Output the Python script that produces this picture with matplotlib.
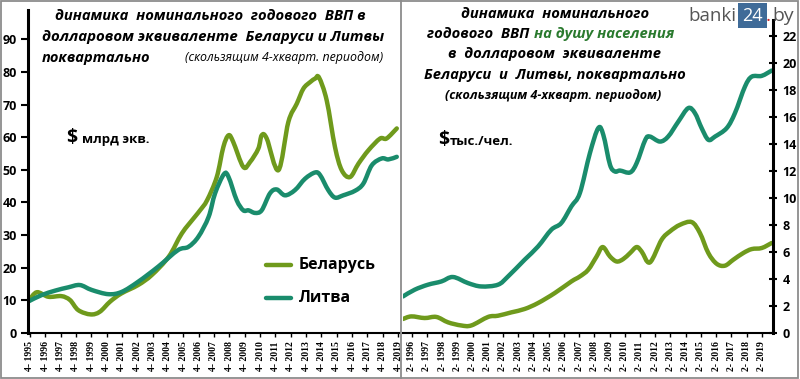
import matplotlib
matplotlib.use("Agg")
import matplotlib.pyplot as plt
from matplotlib.patches import Rectangle, PathPatch
from matplotlib.lines import Line2D
from matplotlib.path import Path

# ---------------- data ----------------
by_gdp_x = [1995.70, 1996.2, 1996.95, 1997.8, 1998.36, 1998.9, 1999.7, 2000.3, 2000.97, 2001.7,
            2002.8, 2003.7, 2004.8, 2005.65, 2006.5, 2006.84, 2007.3, 2007.93, 2008.36, 2008.7,
            2009.0, 2009.66, 2010.1, 2010.64, 2010.86, 2011.19, 2011.95, 2012.6, 2013.15, 2013.58,
            2014.02, 2014.35, 2014.6, 2015.1, 2015.64, 2016.08, 2016.62, 2017.17, 2017.82, 2018.58,
            2019.0, 2019.67]
by_gdp = [10.1, 12.5, 11.1, 11.3, 10.1, 7.0, 5.7, 6.5, 9.6, 12.1,
          14.7, 17.8, 23.4, 30.5, 35.6, 37.6, 40.7, 47.8, 57.0, 60.6,
          58.6, 50.9, 52.4, 56.5, 60.6, 59.6, 49.9, 64.7, 70.3, 74.9,
          76.9, 78.0, 78.3, 71.3, 57.0, 49.9, 47.8, 51.9, 56.0, 59.6,
          59.6, 62.7]

lt_gdp_x = [1995.7, 1996.5, 1997.4, 1998.25, 1999.0, 1999.77, 2000.86, 2001.73, 2002.8, 2004.1,
            2005.4, 2006.08, 2006.73, 2007.4, 2007.82, 2008.4, 2008.7, 2009.23, 2009.66, 2010.0,
            2010.43, 2010.86, 2011.4, 2011.84, 2012.38, 2013.03, 2013.69, 2014.34, 2014.67, 2015.2,
            2015.64, 2016.18, 2016.95, 2017.49, 2018.04, 2018.69, 2019.12, 2019.67]
lt_gdp = [9.8, 11.6, 13.0, 14.0, 14.7, 13.2, 11.9, 12.6, 15.7, 20.3,
          25.4, 26.4, 29.5, 35.6, 42.8, 48.7, 47.8, 40.7, 37.6, 37.6,
          36.8, 37.6, 42.8, 44.0, 42.2, 43.8, 47.3, 49.2, 48.4, 43.8,
          41.5, 42.2, 43.6, 45.8, 51.4, 53.5, 53.2, 54.0]

by_pc_x = [1995.68, 1996.23, 1997.1, 1997.87, 1998.64, 1999.5, 2000.17, 2001.27, 2001.92, 2002.8,
           2003.67, 2004.55, 2005.65, 2006.74, 2007.3, 2007.85, 2008.4, 2008.8, 2009.28, 2009.72,
           2010.15, 2010.6, 2011.03, 2011.36, 2011.9, 2012.67, 2013.22, 2013.88, 2014.65, 2015.19,
           2015.74, 2016.29, 2016.83, 2017.38, 2018.04, 2018.59, 2019.25, 2019.9]
by_pc = [1.04, 1.23, 1.11, 1.19, 0.79, 0.56, 0.56, 1.19, 1.28, 1.53,
         1.78, 2.22, 2.96, 3.82, 4.19, 4.69, 5.67, 6.37, 5.67, 5.3,
         5.48, 5.93, 6.37, 6.04, 5.23, 6.91, 7.53, 8.02, 8.22, 7.41,
         5.93, 5.13, 4.99, 5.43, 5.93, 6.22, 6.3, 6.67]

lt_pc_x = [1995.68, 1996.45, 1997.32, 1998.2, 1998.96, 1999.95, 2000.82, 2001.92, 2002.58, 2003.67,
           2004.55, 2005.42, 2006.08, 2006.74, 2007.3, 2007.96, 2008.51, 2008.84, 2009.28, 2009.61,
           2009.94, 2010.6, 2011.03, 2011.6, 2011.9, 2012.56, 2013.1, 2013.77, 2014.42, 2014.86,
           2015.3, 2015.74, 2016.18, 2016.95, 2017.49, 2018.15, 2018.59, 2019.25, 2019.9]
lt_pc = [2.71, 3.21, 3.58, 3.82, 4.15, 3.70, 3.45, 3.58, 4.19, 5.43,
         6.41, 7.65, 8.15, 9.38, 10.37, 13.33, 15.19, 14.69, 12.47, 11.97,
         12.04, 11.9, 12.59, 14.32, 14.56, 14.19, 14.56, 15.67, 16.67, 16.3,
         15.19, 14.32, 14.56, 15.19, 16.3, 18.27, 19.0, 19.06, 19.45]

years = list(range(1995, 2020))
left_ticks_y = [0, 10, 20, 30, 40, 50, 60, 70, 80, 90]
right_ticks_y = [0, 2, 4, 6, 8, 10, 12, 14, 16, 18, 20, 22]
series_names = ["Беларусь", "Литва"]

C_BY = "#6f9a1c"
C_LT = "#1a8c6c"
C_GREENTXT = "#2a7a2e"

W, H = 800, 379
fig = plt.figure(figsize=(8, 3.79), dpi=100)
fig.patch.set_facecolor("white")


def fx(x):
    return x / W


def fy(y):
    return 1 - y / H


TF = ["Open Sans", "DejaVu Sans"]


def smooth_line(ax, xs, ys, color):
    """Draw a smoothed (Catmull-Rom as cubic Bezier) line through the data points."""
    pts = list(zip(xs, ys))
    n = len(pts)
    verts = [pts[0]]
    codes = [Path.MOVETO]
    for i in range(n - 1):
        p0 = pts[i - 1] if i > 0 else pts[i]
        p1 = pts[i]
        p2 = pts[i + 1]
        p3 = pts[i + 2] if i + 2 < n else pts[i + 1]
        c1 = (p1[0] + (p2[0] - p0[0]) / 6.0, p1[1] + (p2[1] - p0[1]) / 6.0)
        c2 = (p2[0] - (p3[0] - p1[0]) / 6.0, p2[1] - (p3[1] - p1[1]) / 6.0)
        verts += [c1, c2, p2]
        codes += [Path.CURVE4] * 3
    patch = PathPatch(Path(verts, codes), facecolor="none", edgecolor=color, lw=3.2,
                      joinstyle="round", capstyle="round", transform=ax.transData)
    ax.add_patch(patch)


# ---------------- left axes ----------------
ax1 = fig.add_axes([fx(28), fy(333), fx(400 - 28), (333 - 10) / H])
smooth_line(ax1, by_gdp_x, by_gdp, C_BY)
smooth_line(ax1, lt_gdp_x, lt_gdp, C_LT)
ax1.set_xlim(1995.62, 2019.88)
ax1.set_ylim(0, 99)
ax1.set_yticks(left_ticks_y)
ax1.set_yticklabels([str(v) for v in left_ticks_y], fontsize=9, fontweight="bold", family=TF)
ax1.set_xticks([y + 0.75 for y in years])
ax1.set_xticklabels([f"4- {y}" for y in years], rotation=90, fontsize=7,
                    fontweight="bold", family="Liberation Serif", va="top")
ax1.tick_params(axis="y", length=5, width=1.5, pad=3, color="black")
ax1.tick_params(axis="x", length=3, width=1, pad=3)
for s in ["top", "right"]:
    ax1.spines[s].set_visible(False)
ax1.spines["left"].set_linewidth(2.2)
ax1.spines["bottom"].set_linewidth(1.5)
ax1.patch.set_alpha(0)

# ---------------- right axes ----------------
ax2 = fig.add_axes([fx(403), fy(333), fx(773 - 403), (333 - 20) / H])
smooth_line(ax2, by_pc_x, by_pc, C_BY)
smooth_line(ax2, lt_pc_x, lt_pc, C_LT)
ax2.set_xlim(1995.68, 2019.99)
ax2.set_ylim(0, 23.2)
ax2.yaxis.tick_right()
ax2.set_yticks(right_ticks_y)
ax2.set_yticklabels([str(v) for v in right_ticks_y], fontsize=9, fontweight="bold", family=TF)
ax2.set_xticks([y + 0.25 for y in years[1:]])
ax2.set_xticklabels([f"2- {y}" for y in years[1:]], rotation=90, fontsize=7,
                    fontweight="bold", family="Liberation Serif", va="top")
ax2.tick_params(axis="y", length=6, width=1.5, pad=4, direction="inout")
ax2.tick_params(axis="x", length=3, width=1, pad=3)
for s in ["top", "left"]:
    ax2.spines[s].set_visible(False)
ax2.spines["right"].set_linewidth(2.2)
ax2.spines["bottom"].set_linewidth(1.5)
ax2.patch.set_alpha(0)

# ---------------- frame & separator ----------------
fig.add_artist(Rectangle((0.001, 0.002), 0.997, 0.995, transform=fig.transFigure,
                         fill=False, edgecolor="#8c8c8c", lw=1.3))
fig.add_artist(Line2D([fx(401), fx(401)], [0, 1], transform=fig.transFigure,
                      color="#8c8c8c", lw=1.3))

# ---------------- left title ----------------
fig.text(fx(55), fy(16), "динамика  номинального  годового  ВВП в", fontsize=10.6,
         fontweight="bold", fontstyle="italic", family=TF, va="center", ha="left")
fig.text(fx(42), fy(37), "долларовом эквиваленте  Беларуси и Литвы", fontsize=10.8,
         fontweight="bold", fontstyle="italic", family=TF, va="center", ha="left")
fig.text(fx(42), fy(58), "поквартально", fontsize=10.5,
         fontweight="bold", fontstyle="italic", family=TF, va="center", ha="left")
fig.text(fx(383), fy(58), "(скользящим 4-хкварт. периодом)", fontsize=8.9,
         fontstyle="italic", family=TF, va="center", ha="right")

# ---------------- right title ----------------
cx = fx(555)
fig.text(cx, fy(14), "динамика  номинального", fontsize=10.6, fontweight="bold",
         fontstyle="italic", family=TF, va="center", ha="center")
fig.text(fx(427), fy(34), "годового  ВВП ", fontsize=10.6, fontweight="bold",
         fontstyle="italic", family=TF, va="center", ha="left")
fig.text(fx(534), fy(34), "на душу населения", fontsize=10.6, fontweight="bold",
         fontstyle="italic", family=TF, va="center", ha="left", color=C_GREENTXT)
fig.text(cx, fy(54), "в  долларовом  эквиваленте", fontsize=10.6, fontweight="bold",
         fontstyle="italic", family=TF, va="center", ha="center")
fig.text(cx, fy(75), "Беларуси  и  Литвы, поквартально", fontsize=10.6, fontweight="bold",
         fontstyle="italic", family=TF, va="center", ha="center")
fig.text(fx(553), fy(95), "(скользящим 4-хкварт. периодом)", fontsize=9,
         fontweight="bold", fontstyle="italic", family=TF, va="center", ha="center")

# ---------------- unit labels ----------------
fig.text(fx(66), fy(138), "$", fontsize=14, fontweight="bold", family=TF, va="center")
fig.text(fx(82), fy(140), "млрд экв.", fontsize=9.5, fontweight="bold", family=TF, va="center")
fig.text(fx(438), fy(140), "$", fontsize=14, fontweight="bold", family=TF, va="center")
fig.text(fx(450), fy(142), "тыс./чел.", fontsize=9.5, fontweight="bold", family=TF, va="center")

# ---------------- legend ----------------
for name, col, yy in [(series_names[0], C_BY, 265), (series_names[1], C_LT, 298)]:
    fig.add_artist(Line2D([fx(266), fx(291)], [fy(yy), fy(yy)], transform=fig.transFigure,
                          color=col, lw=3.2, solid_capstyle="round"))
    fig.text(fx(299), fy(yy), name, fontsize=11.5, fontweight="bold", family=TF, va="center")

# ---------------- logo ----------------
fig.text(fx(736), fy(16), "banki", fontsize=13.5, color="#555555", family=TF,
         va="center", ha="right")
fig.add_artist(Rectangle((fx(738), fy(28)), fx(29), (28 - 3) / H, transform=fig.transFigure,
                         facecolor="#3f6b98", edgecolor="none"))
fig.text(fx(752.5), fy(16), "24", fontsize=13, color="white", family=TF, va="center", ha="center")
fig.text(fx(766), fy(16), ".", fontsize=14, color="#cc2222", family=TF, va="center")
fig.text(fx(772), fy(16), "by", fontsize=14, color="#555555", family=TF, va="center")

fig.savefig("out.png", dpi=100, facecolor="white")
